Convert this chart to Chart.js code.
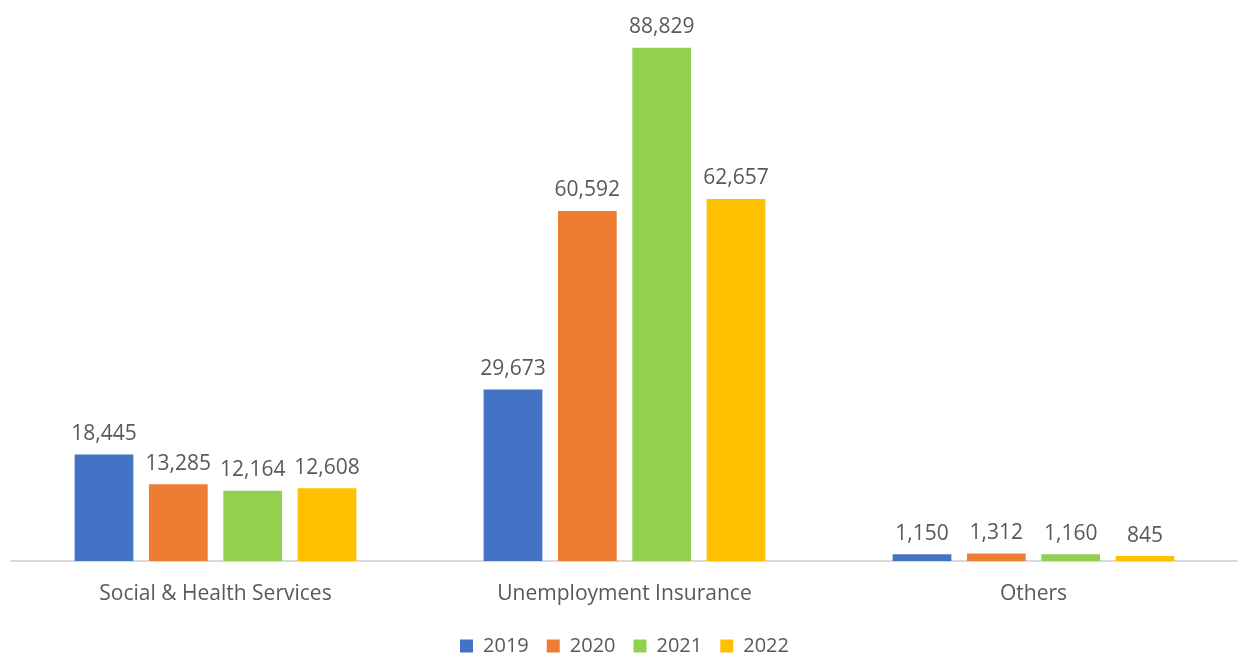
<!DOCTYPE html>
<html>
<head>
<meta charset="utf-8">
<script src="https://cdn.jsdelivr.net/npm/chart.js@4"></script>
<style>
  html, body { margin: 0; padding: 0; background: #fff; }
  #wrap { width: 1238px; height: 655px; }
</style>
</head>
<body>
<div id="wrap"><canvas id="benefitsChart"></canvas></div>
<script>
const categories = ['Social & Health Services', 'Unemployment Insurance', 'Others'];
const years = ['2019', '2020', '2021', '2022'];
const values2019 = [18445, 29673, 1150];
const values2020 = [13285, 60592, 1312];
const values2021 = [12164, 88829, 1160];
const values2022 = [12608, 62657, 845];
const yearColors = ['#4472C4', '#ED7D31', '#92D050', '#FFC000'];

const seriesValues = [values2019, values2020, values2021, values2022];

// draws the number above each bar
const barLabels = {
    id: 'barLabels',
    afterDatasetsDraw(chart) {
        const ctx = chart.ctx;
        ctx.save();
        ctx.font = "21px 'Open Sans', sans-serif";
        ctx.fillStyle = '#595959';
        ctx.textAlign = 'center';
        ctx.textBaseline = 'bottom';
        chart.data.datasets.forEach((ds, i) => {
            chart.getDatasetMeta(i).data.forEach((bar, j) => {
                ctx.fillText(ds.data[j].toLocaleString('en-US'), bar.x, bar.y - 10);
            });
        });
        ctx.restore();
    }
};

const datasets = years.map((y, i) => ({
    label: y,
    data: seriesValues[i],
    backgroundColor: yearColors[i],
    borderWidth: 0,
    categoryPercentage: 0.727,
    barPercentage: 0.79
}));

new Chart(document.getElementById('benefitsChart'), {
    type: 'bar',
    data: { labels: categories, datasets: datasets },
    plugins: [barLabels],
    options: {
        responsive: true,
        maintainAspectRatio: false,
        animation: false,
        layout: { padding: { top: 41, left: 11, right: 0, bottom: -11 } },
        plugins: {
            legend: {
                position: 'bottom',
                labels: {
                    color: '#595959',
                    boxWidth: 13,
                    boxHeight: 13,
                    padding: 18,
                    font: { family: "'Open Sans', sans-serif", size: 20 }
                }
            },
            tooltip: { enabled: false }
        },
        scales: {
            x: {
                afterFit: (scale) => { scale.height = 57; },
                grid: { display: false, drawTicks: false },
                border: { color: '#D9D9D9', width: 2 },
                ticks: {
                    color: '#595959',
                    padding: 20,
                    font: { family: "'Open Sans', sans-serif", size: 21 }
                }
            },
            y: {
                display: false,
                min: 0,
                max: 90000
            }
        }
    }
});
</script>
</body>
</html>
